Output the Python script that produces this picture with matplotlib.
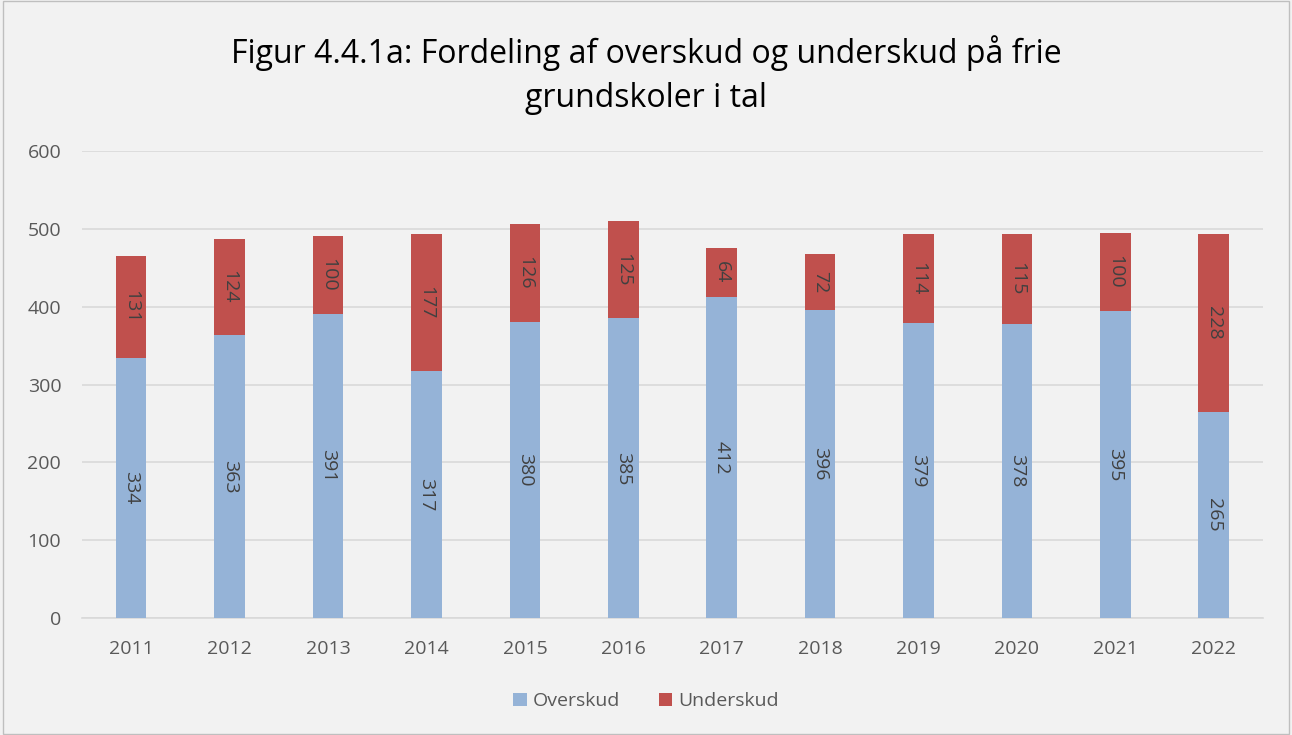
import matplotlib.pyplot as plt
import numpy as np

years = ['2011', '2012', '2013', '2014', '2015', '2016', '2017', '2018', '2019', '2020', '2021', '2022']
overskud = [334, 363, 391, 317, 380, 385, 412, 396, 379, 378, 395, 265]
underskud = [131, 124, 100, 177, 126, 125, 64, 72, 114, 115, 100, 228]

plt.rcParams['font.family'] = ['Open Sans', 'DejaVu Sans']
bg = '#F2F2F2'
txt = '#404040'

fig = plt.figure(figsize=(12.92, 7.35), dpi=100, facecolor=bg)
ax = fig.add_axes([0.0635, 0.159, 0.914, 0.6356], facecolor=bg)

x = np.arange(len(years))
w = 0.31
b1 = ax.bar(x, overskud, w, color='#95B3D7', label='Overskud', zorder=3)
b2 = ax.bar(x, underskud, w, bottom=overskud, color='#C0504D', label='Underskud', zorder=3)

# labels inside segments, rotated
for i in range(len(years)):
    ax.text(x[i], overskud[i] / 2, str(overskud[i]), rotation=-90, ha='center', va='center',
            fontsize=14, color=txt, zorder=4)
    ax.text(x[i], overskud[i] + underskud[i] / 2, str(underskud[i]), rotation=-90, ha='center',
            va='center', fontsize=14, color=txt, zorder=4)

ax.set_ylim(0, 600)
ax.set_xlim(-0.5, len(years) - 0.5)
ax.set_yticks(range(0, 601, 100))
ax.set_xticks(x)
ax.set_xticklabels(years)
ax.grid(axis='y', color='#D9D9D9', linewidth=1.2, zorder=0)
for s in ['top', 'right', 'left']:
    ax.spines[s].set_visible(False)
ax.spines['bottom'].set_color('#D9D9D9')
ax.spines['bottom'].set_linewidth(1.2)
ax.tick_params(axis='both', length=0, labelsize=14, colors='#595959')
ax.tick_params(axis='x', pad=16)
ax.tick_params(axis='y', pad=15)

fig.text(0.5, 0.898, 'Figur 4.4.1a: Fordeling af overskud og underskud på frie\ngrundskoler i tal',
         ha='center', va='center', fontsize=23, color='black', linespacing=1.45)

fig.legend(handles=[b1, b2], loc='center', bbox_to_anchor=(0.5, 0.046), ncol=2, frameon=False,
           fontsize=14, labelcolor='#595959', handlelength=0.7, handleheight=0.7,
           handletextpad=0.3, columnspacing=2.0)

fig.patches.append(plt.Rectangle((0.002, 0.002), 0.996, 0.996, transform=fig.transFigure,
                                 fill=False, edgecolor='#BFBFBF', linewidth=1))

fig.savefig('out.png', dpi=100, facecolor=bg)
